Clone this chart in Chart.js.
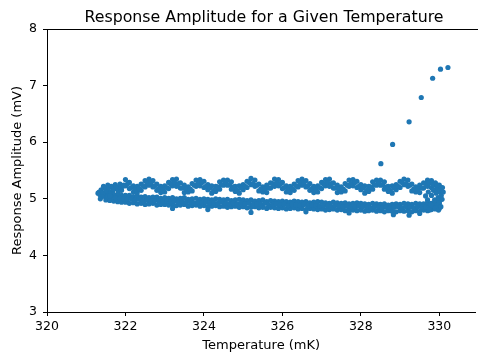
<!DOCTYPE html>
<html>
<head>
<meta charset="utf-8">
<script src="https://cdn.jsdelivr.net/npm/chart.js@4"></script>
<style>
html, body { margin: 0; padding: 0; background: #fff; overflow: hidden; }
#wrap { width: 478px; height: 356px; }
</style>
</head>
<body>
<div id="wrap"><canvas id="scatterChart"></canvas></div>
<script>
// タイトルと軸ラベル
const titleText = 'Response Amplitude for a Given Temperature';
const xLabel = 'Temperature (mK)';
const yLabel = 'Response Amplitude (mV)';

// 上側の帯 (波打っている方) : 上の列・下の列は同じ温度, 中の列は半分ずらす
const upperTemp = [
  322.0,322.1,322.2,322.3,322.4,322.5,322.6,322.7,322.8,322.9,
  323.0,323.1,323.2,323.3,323.4,323.5,323.6,323.7,323.8,323.9,
  324.0,324.1,324.2,324.3,324.4,324.5,324.6,324.7,324.8,324.9,
  325.0,325.1,325.2,325.3,325.4,325.5,325.6,325.7,325.8,325.9,
  326.0,326.1,326.2,326.3,326.4,326.5,326.6,326.7,326.8,326.9,
  327.0,327.1,327.2,327.3,327.4,327.5,327.6,327.7,327.8,327.9,
  328.0,328.1,328.2,328.3,328.4,328.5,328.6,328.7,328.8,328.9,
  329.0,329.1,329.2,329.3,329.4,329.5,329.6,329.7,329.8,329.9,
  330.0
];
const upperAmpTop = [
  5.34,5.29,5.23,5.22,5.26,5.32,5.35,5.32,5.26,5.22,5.23,5.29,5.34,
  5.35,5.28,5.24,5.21,5.27,5.33,5.34,5.31,5.25,5.23,5.22,5.30,5.33,
  5.33,5.30,5.22,5.23,5.25,5.31,5.36,5.33,5.26,5.21,5.24,5.28,5.35,
  5.34,5.29,5.23,5.22,5.26,5.32,5.35,5.32,5.27,5.22,5.23,5.29,5.34,
  5.35,5.28,5.24,5.21,5.27,5.33,5.34,5.31,5.25,5.23,5.22,5.30,5.33,
  5.33,5.30,5.22,5.23,5.25,5.31,5.35,5.33,5.26,5.21,5.24,5.28,5.33,
  5.32,5.28,5.24
];
const upperAmpBottom = [
  5.23,5.18,5.12,5.11,5.15,5.21,5.24,5.21,5.15,5.11,5.12,5.18,5.23,
  5.22,5.19,5.11,5.12,5.14,5.22,5.23,5.20,5.16,5.10,5.13,5.17,5.24,
  5.24,5.17,5.13,5.10,5.16,5.20,5.25,5.22,5.14,5.12,5.11,5.19,5.22,
  5.23,5.18,5.12,5.11,5.15,5.21,5.24,5.21,5.15,5.11,5.12,5.18,5.23,
  5.22,5.19,5.11,5.12,5.14,5.22,5.23,5.20,5.16,5.10,5.13,5.17,5.24,
  5.24,5.17,5.13,5.10,5.16,5.20,5.25,5.22,5.14,5.12,5.11,5.19,5.22,
  5.20,5.16,5.13
];
const upperTempMid = [
  322.05,322.15,322.25,322.35,322.45,322.55,322.65,322.75,322.85,322.95,
  323.05,323.15,323.25,323.35,323.45,323.55,323.65,323.75,323.85,323.95,
  324.05,324.15,324.25,324.35,324.45,324.55,324.65,324.75,324.85,324.95,
  325.05,325.15,325.25,325.35,325.45,325.55,325.65,325.75,325.85,325.95,
  326.05,326.15,326.25,326.35,326.45,326.55,326.65,326.75,326.85,326.95,
  327.05,327.15,327.25,327.35,327.45,327.55,327.65,327.75,327.85,327.95,
  328.05,328.15,328.25,328.35,328.45,328.55,328.65,328.75,328.85,328.95,
  329.05,329.15,329.25,329.35,329.45,329.55,329.65,329.75,329.85,329.95
];
const upperAmpMid = [
  5.26,5.20,5.16,5.18,5.23,5.28,5.28,5.23,5.18,5.16,5.20,5.26,5.29,
  5.27,5.19,5.17,5.17,5.24,5.27,5.29,5.22,5.19,5.15,5.21,5.25,5.30,
  5.25,5.21,5.15,5.19,5.22,5.29,5.27,5.24,5.17,5.17,5.19,5.27,5.28,
  5.26,5.20,5.16,5.18,5.23,5.28,5.28,5.23,5.18,5.16,5.20,5.26,5.29,
  5.27,5.19,5.17,5.17,5.24,5.27,5.29,5.22,5.19,5.15,5.21,5.25,5.30,
  5.25,5.21,5.15,5.19,5.22,5.29,5.27,5.24,5.17,5.17,5.19,5.27,5.28,
  5.24,5.20
];

// 下側の帯 (右に向かって少し下がる)
const lowerTemp = [
  321.5,321.6,321.7,321.8,321.9,
  322.0,322.1,322.2,322.3,322.4,322.5,322.6,322.7,322.8,322.9,
  323.0,323.1,323.2,323.3,323.4,323.5,323.6,323.7,323.8,323.9,
  324.0,324.1,324.2,324.3,324.4,324.5,324.6,324.7,324.8,324.9,
  325.0,325.1,325.2,325.3,325.4,325.5,325.6,325.7,325.8,325.9,
  326.0,326.1,326.2,326.3,326.4,326.5,326.6,326.7,326.8,326.9,
  327.0,327.1,327.2,327.3,327.4,327.5,327.6,327.7,327.8,327.9,
  328.0,328.1,328.2,328.3,328.4,328.5,328.6,328.7,328.8,328.9,
  329.0,329.1,329.2,329.3,329.4,329.5,329.6,329.7,329.8,329.9,
  330.0
];
const lowerAmpTop = [
  5.10,5.09,5.08,5.07,5.06,
  5.06,5.06,5.04,5.05,5.03,5.04,5.02,5.03,5.03,5.01,
  5.02,5.01,5.02,5.00,5.01,5.02,4.99,5.00,5.01,4.99,
  5.00,4.99,4.98,5.00,4.99,4.98,4.99,4.97,4.98,4.99,
  4.98,4.97,4.98,4.96,4.97,4.98,4.95,4.97,4.96,4.95,
  4.96,4.95,4.94,4.96,4.95,4.94,4.95,4.93,4.94,4.95,
  4.94,4.93,4.92,4.94,4.93,4.92,4.93,4.91,4.92,4.93,
  4.92,4.91,4.90,4.92,4.91,4.90,4.91,4.89,4.90,4.91,
  4.90,4.92,4.91,4.90,4.92,4.91,4.91,4.93,4.92,4.94,
  4.95
];
const lowerAmpBottom = [
  4.98,4.97,4.96,4.95,4.94,
  4.94,4.92,4.93,4.91,4.92,4.90,4.91,4.92,4.89,4.90,
  4.90,4.89,4.90,4.88,4.89,4.90,4.87,4.88,4.89,4.87,
  4.88,4.86,4.87,4.88,4.86,4.87,4.85,4.86,4.87,4.85,
  4.86,4.84,4.85,4.86,4.84,4.85,4.83,4.85,4.84,4.83,
  4.84,4.82,4.83,4.84,4.82,4.83,4.81,4.83,4.82,4.81,
  4.82,4.80,4.81,4.82,4.80,4.81,4.79,4.81,4.80,4.79,
  4.80,4.78,4.79,4.80,4.78,4.79,4.77,4.79,4.78,4.77,
  4.79,4.78,4.79,4.77,4.79,4.78,4.80,4.79,4.81,4.82,
  4.83
];
const lowerTempMid = [
  321.45,321.55,321.65,321.75,321.85,321.95,
  322.05,322.15,322.25,322.35,322.45,322.55,322.65,322.75,322.85,322.95,
  323.05,323.15,323.25,323.35,323.45,323.55,323.65,323.75,323.85,323.95,
  324.05,324.15,324.25,324.35,324.45,324.55,324.65,324.75,324.85,324.95,
  325.05,325.15,325.25,325.35,325.45,325.55,325.65,325.75,325.85,325.95,
  326.05,326.15,326.25,326.35,326.45,326.55,326.65,326.75,326.85,326.95,
  327.05,327.15,327.25,327.35,327.45,327.55,327.65,327.75,327.85,327.95,
  328.05,328.15,328.25,328.35,328.45,328.55,328.65,328.75,328.85,328.95,
  329.05,329.15,329.25,329.35,329.45,329.55,329.65,329.75,329.85,329.95
];
const lowerAmpMid = [
  5.05,5.04,5.03,5.02,5.01,5.00,
  4.99,5.00,4.98,4.99,4.97,4.98,4.96,4.97,4.96,4.95,
  4.96,4.95,4.96,4.94,4.95,4.94,4.95,4.93,4.94,4.93,
  4.94,4.92,4.93,4.92,4.94,4.92,4.91,4.93,4.91,4.92,
  4.91,4.92,4.90,4.91,4.90,4.92,4.89,4.90,4.91,4.89,
  4.90,4.88,4.90,4.89,4.88,4.90,4.87,4.89,4.88,4.87,
  4.88,4.87,4.86,4.88,4.87,4.86,4.87,4.85,4.86,4.87,
  4.86,4.85,4.84,4.86,4.85,4.84,4.85,4.84,4.85,4.86,
  4.84,4.86,4.85,4.84,4.86,4.85,4.86,4.87,4.88,4.89
];

// 両端のかたまりと外れた点
const edgeTemp = [
  321.30,321.33,321.35,321.38,321.42,321.44,321.46,321.50,321.52,321.55,
  321.58,321.62,321.64,321.68,321.70,321.74,321.76,321.80,321.82,321.86,
  321.88,321.90,321.93,321.96,321.40,321.60,321.36,
  329.65,329.70,329.72,329.78,329.80,329.85,329.88,329.90,329.92,329.95,
  329.97,330.00,330.02,330.05,330.07,330.10,330.08,329.98,329.75,330.04,
  325.20,328.83,329.23,326.60,327.70,324.10,323.20,329.50
];
const edgeAmp = [
  5.10,5.12,5.07,5.16,5.10,5.22,5.19,5.17,5.14,5.24,
  5.20,5.12,5.22,5.15,5.17,5.25,5.21,5.20,5.13,5.26,
  5.18,5.15,5.22,5.24,5.04,5.05,5.00,
  5.05,4.98,5.12,4.90,5.06,5.15,4.98,4.84,5.10,5.24,
  5.02,4.92,5.15,5.06,4.99,5.12,5.20,4.80,4.80,4.86,
  4.76,4.72,4.71,4.77,4.75,4.81,4.83,4.74
];

// 右上に伸びる点
const tailTemp = [328.51, 328.81, 329.23, 329.54, 329.83, 330.03, 330.22];
const tailAmp = [5.62, 5.96, 6.36, 6.79, 7.13, 7.29, 7.32];

// 軸の範囲
const xMin = 320, xMax = 330.92, xStep = 2;
const yMin = 3, yMax = 8, yStep = 1;

function toPoints(xs, ys) {
  return xs.map((x, i) => ({ x: x, y: ys[i] }));
}

const points = [].concat(
  toPoints(lowerTemp, lowerAmpTop),
  toPoints(lowerTemp, lowerAmpBottom),
  toPoints(lowerTempMid, lowerAmpMid),
  toPoints(upperTemp, upperAmpTop),
  toPoints(upperTemp, upperAmpBottom),
  toPoints(upperTempMid, upperAmpMid),
  toPoints(edgeTemp, edgeAmp),
  toPoints(tailTemp, tailAmp)
);

// タイトルと上の枠線 (matplotlib風)
const frameTitle = {
  id: 'frameTitle',
  afterDraw(chart) {
    const { ctx, chartArea } = chart;
    ctx.save();
    ctx.strokeStyle = '#000';
    ctx.lineWidth = 1;
    ctx.beginPath();
    ctx.moveTo(chartArea.left, chartArea.top + 0.5);
    ctx.lineTo(chart.width, chartArea.top + 0.5);
    ctx.stroke();
    ctx.fillStyle = '#000';
    ctx.font = '15.8px "DejaVu Sans"';
    ctx.textAlign = 'center';
    ctx.textBaseline = 'alphabetic';
    ctx.fillText(titleText, chartArea.left + 217, 22);
    ctx.restore();
  }
};

Chart.defaults.font.family = '"DejaVu Sans", sans-serif';
Chart.defaults.color = '#000';

let chart;
function renderChart() {
  const ctx = document.getElementById('scatterChart').getContext('2d');
  chart = new Chart(ctx, {
    type: 'scatter',
    data: {
      datasets: [{
        data: points,
        backgroundColor: '#1f77b4',
        borderWidth: 0,
        pointRadius: 2.6,
        pointHoverRadius: 2.6
      }]
    },
    options: {
      responsive: true,
      maintainAspectRatio: false,
      animation: false,
      layout: { padding: { top: 29, right: 1, left: 0, bottom: 0 } },
      plugins: {
        legend: { display: false },
        tooltip: { enabled: false }
      },
      scales: {
        x: {
          type: 'linear',
          min: xMin,
          max: xMax,
          afterFit: (axis) => { axis.height = 44; },
          ticks: { stepSize: xStep, includeBounds: false, padding: 3, font: { size: 12.5 } },
          grid: { drawOnChartArea: false, tickLength: 4, tickColor: '#000' },
          border: { display: true, color: '#000', width: 1 },
          title: { display: true, text: xLabel, font: { size: 13 }, padding: { top: 0, bottom: 3 } }
        },
        y: {
          type: 'linear',
          min: yMin,
          max: yMax,
          afterFit: (axis) => { axis.width = 47; },
          ticks: { stepSize: yStep, padding: 6, font: { size: 12.5 } },
          grid: { drawOnChartArea: false, tickLength: 4, tickColor: '#000' },
          border: { display: true, color: '#000', width: 1 },
          title: { display: true, text: yLabel, font: { size: 13 }, padding: { top: 10, bottom: 0 } }
        }
      }
    },
    plugins: [frameTitle]
  });
}

renderChart();
</script>
</body>
</html>
